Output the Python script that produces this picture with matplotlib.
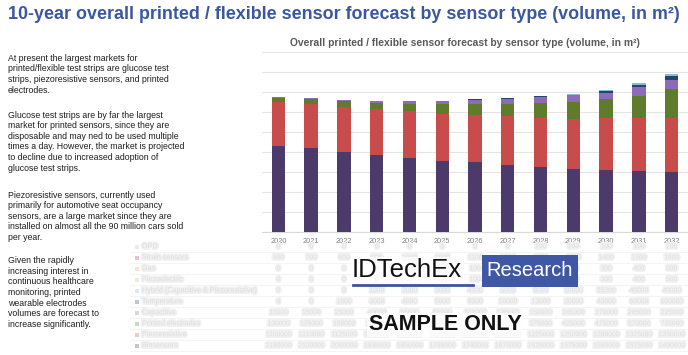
import matplotlib
matplotlib.use("Agg")
import matplotlib.pyplot as plt
import matplotlib.patheffects as pe
from matplotlib.patches import Rectangle
from matplotlib.lines import Line2D
import numpy as np

plt.rcParams['font.family'] = ['Liberation Sans', 'DejaVu Sans']

# forecast, million m2
years = ['2020', '2021', '2022', '2023', '2024', '2025', '2026',
         '2027', '2028', '2029', '2030', '2031', '2032']
biosensors = [2.160, 2.100, 2.000, 1.935, 1.850, 1.785, 1.740, 1.675, 1.625, 1.575, 1.560, 1.515, 1.490]
piezoresistive = [1.100, 1.110, 1.125, 1.140, 1.165, 1.175, 1.195, 1.215, 1.225, 1.250, 1.280, 1.325, 1.350]
printed_electrodes = [0.100, 0.125, 0.150, 0.160, 0.195, 0.250, 0.275, 0.320, 0.375, 0.425, 0.475, 0.570, 0.735]
capacitive = [0.010, 0.015, 0.025, 0.040, 0.055, 0.065, 0.100, 0.125, 0.160, 0.165, 0.170, 0.205, 0.225]
temperature = [0.000, 0.000, 0.001, 0.003, 0.004, 0.005, 0.008, 0.010, 0.013, 0.020, 0.040, 0.060, 0.100]
hybrid = [0.000, 0.000, 0.000, 0.001, 0.002, 0.003, 0.004, 0.005, 0.008, 0.010, 0.035, 0.040, 0.040]
piezoelectric = [0.000, 0.000, 0.000, 0.000, 0.000, 0.0001, 0.0001, 0.0001, 0.0002, 0.0002, 0.0003, 0.0004, 0.0005]
gas = [0.000, 0.000, 0.000, 0.000, 0.0001, 0.0001, 0.0001, 0.0002, 0.0002, 0.0003, 0.0003, 0.0004, 0.0005]
strain = [0.0005, 0.0007, 0.0008, 0.0009, 0.0010, 0.0010, 0.0011, 0.0012, 0.0013, 0.0013, 0.0014, 0.0015, 0.0016]
opd = [0.000, 0.000, 0.000, 0.000, 0.000, 0.000, 0.000, 0.000, 0.0001, 0.0001, 0.0001, 0.0001, 0.0002]

# table order (top row first)
series_names = ['OPD', 'Strain sensors', 'Gas', 'Piezoelectric',
                'Hybrid (Capacitive & Piezoresistive)', 'Temperature',
                'Capacitive', 'Printed electrodes', 'Piezoresistive', 'Biosensors']
series_values = [opd, strain, gas, piezoelectric, hybrid, temperature,
                 capacitive, printed_electrodes, piezoresistive, biosensors]
colors = ['#9ec3e6', '#c0314a', '#f4a460', '#b5d38a', '#8bbbd9', '#23466f',
          '#8e6bb8', '#5f7c2c', '#c94c4c', '#4b3a6a']

paragraphs = [
    ["At present the largest markets for",
     "printed/flexible test strips are glucose test",
     "strips, piezoresistive sensors, and printed",
     "electrodes."],
    ["Glucose test strips are by far the largest",
     "market for printed sensors, since they are",
     "disposable and may ned to be used multiple",
     "times a day. However, the market is projected",
     "to decline due to increased adoption of",
     "glucose test strips."],
    ["Piezoresistive sensors, currently used",
     "primarily for automotive seat occupancy",
     "sensors, are a large market since they are",
     "installed on almost all the 90 million cars sold",
     "per year."],
    ["Given the rapidly",
     "increasing interest in",
     "continuous healthcare",
     "monitoring, printed",
     "wearable electrodes",
     "volumes are forecast to",
     "increase significantly."],
]
para_top = [58.3, 115, 195, 260.7]

W, H = 688, 355
fig = plt.figure(figsize=(W / 100, H / 100), dpi=100)


def fx(px):
    return px / W


def fy(py):
    return 1 - py / H


# blurred table behind the chart
row_y = [246.7 + 11 * i for i in range(len(series_names))]
x_cols = [278.4 + 32.77 * i for i in range(len(years))]
blur = [pe.withStroke(linewidth=2.5, foreground='#f1f1f1')]
for i, name in enumerate(series_names):
    y = fy(row_y[i])
    fig.add_artist(Line2D([fx(130), fx(688)], [fy(row_y[i] + 5.5)] * 2,
                          color='#f4f4f4', lw=0.8))
    fig.add_artist(Rectangle((fx(135), y - 2 / H), 4 / W, 4 / H,
                             facecolor=colors[i], alpha=0.3, edgecolor='none'))
    fig.text(fx(142), y, name, fontsize=5.2, color='#dcdcdc', va='center',
             path_effects=blur)
    for j, v in enumerate(series_values[i]):
        fig.text(fx(x_cols[j]), y, f"{v * 1e6:.0f}", fontsize=4.8,
                 color='#dedede', ha='center', va='center', path_effects=blur)

ax = fig.add_axes([fx(262), fy(232), 426 / W, 180 / H])
ax.patch.set_alpha(0)
x = np.arange(len(years))
bottom = np.zeros(len(years))
for i in range(len(series_names) - 1, -1, -1):
    vals = np.array(series_values[i])
    ax.bar(x, vals, width=0.41, bottom=bottom, color=colors[i], zorder=3)
    bottom += vals

ax.set_xlim(-0.5, len(years) - 0.5)
ax.set_ylim(0, 4.5)
ax.set_yticks(np.arange(0, 4.51, 0.5))
ax.yaxis.grid(True, color='#e4e4e4', lw=0.8, zorder=0)
ax.set_yticklabels([])
ax.set_xticks(x)
ax.set_xticklabels(years, fontsize=5.3, color='#808080')
ax.tick_params(length=0, pad=4)
for s in ['top', 'right', 'left']:
    ax.spines[s].set_visible(False)
ax.spines['bottom'].set_color('#d9d9d9')
ax.spines['bottom'].set_linewidth(0.8)

# titles
fig.text(fx(8), fy(14.5), "10-year overall printed / flexible sensor forecast by sensor type (volume, in m\u00b2)",
         fontsize=12.9, fontweight='bold', color='#3b56a2', va='center',
         family=['Liberation Sans Narrow', 'Liberation Sans'])
fig.text(fx(465), fy(43), "Overall printed / flexible sensor forecast by sensor type (volume, in m\u00b2)",
         fontsize=7.4, fontweight='bold', color='#595959', ha='center', va='center')

# left-hand commentary
for top, lines in zip(para_top, paragraphs):
    for k, line in enumerate(lines):
        fig.text(fx(8), fy(top + 10.65 * k), line, fontsize=6.3,
                 color='#1e1e1e', va='center')

# watermark
wm_bg = dict(facecolor='white', edgecolor='none', alpha=0.75, pad=1)
fig.text(fx(352), fy(270), "IDTechEx", fontsize=18.5, color='#111111',
         va='center', zorder=10, bbox=wm_bg)
fig.add_artist(Line2D([fx(353), fx(473)], [fy(285)] * 2, color='#3d55a0',
                      lw=2, zorder=10))
fig.add_artist(Rectangle((fx(482), fy(287)), 96 / W, 32 / H,
                         facecolor='#3f58a6', edgecolor='none', zorder=10))
fig.text(fx(530), fy(271), "Research", fontsize=14.5, color='white',
         ha='center', va='center', zorder=11)
fig.text(fx(445), fy(325), "SAMPLE ONLY", fontsize=15.5, fontweight='bold',
         color='#111111', ha='center', va='center', zorder=10, bbox=wm_bg)

fig.savefig('out.png', dpi=100)
